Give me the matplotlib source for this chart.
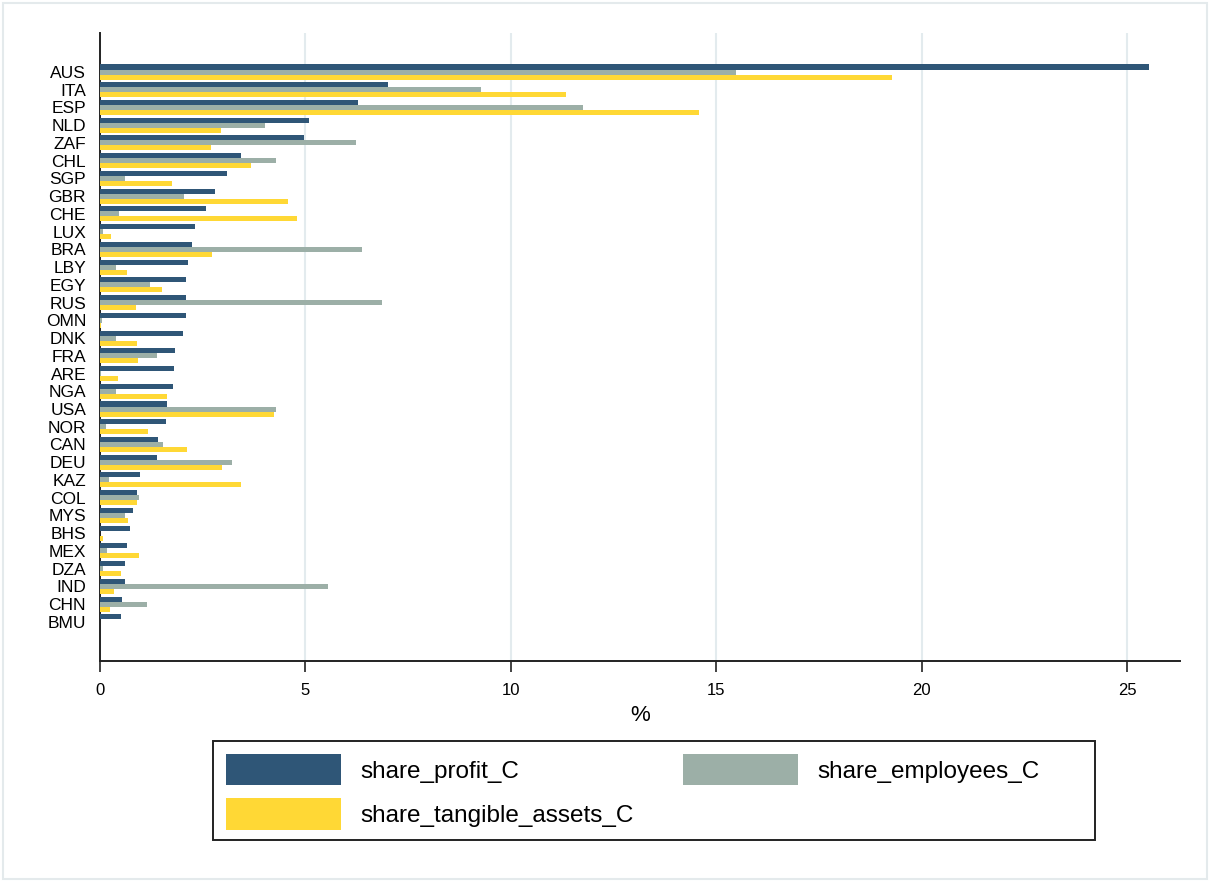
import matplotlib
matplotlib.use("Agg")
import matplotlib.pyplot as plt
from matplotlib.patches import Rectangle
import numpy as np

countries = ["AUS", "ITA", "ESP", "NLD", "ZAF", "CHL", "SGP", "GBR", "CHE", "LUX",
             "BRA", "LBY", "EGY", "RUS", "OMN", "DNK", "FRA", "ARE", "NGA", "USA",
             "NOR", "CAN", "DEU", "KAZ", "COL", "MYS", "BHS", "MEX", "DZA", "IND",
             "CHN", "BMU"]
share_profit_C = [25.52, 7.01, 6.29, 5.08, 4.96, 3.43, 3.08, 2.80, 2.57, 2.31,
                  2.25, 2.14, 2.10, 2.10, 2.10, 2.03, 1.83, 1.81, 1.78, 1.63,
                  1.60, 1.42, 1.39, 0.97, 0.90, 0.81, 0.73, 0.65, 0.60, 0.60,
                  0.53, 0.52]
share_employees_C = [15.48, 9.27, 11.76, 4.01, 6.23, 4.28, 0.62, 2.05, 0.46, 0.07,
                     6.37, 0.39, 1.22, 6.86, 0.04, 0.40, 1.39, 0.03, 0.39, 4.28,
                     0.14, 1.54, 3.21, 0.22, 0.95, 0.60, 0.01, 0.18, 0.08, 5.56,
                     1.14, 0.0]
share_tangible_assets_C = [19.27, 11.34, 14.57, 2.95, 2.70, 3.68, 1.75, 4.57, 4.79, 0.26,
                           2.73, 0.66, 1.52, 0.87, 0.03, 0.89, 0.93, 0.45, 1.63, 4.23,
                           1.17, 2.12, 2.98, 3.43, 0.89, 0.69, 0.07, 0.94, 0.52, 0.33,
                           0.25, 0.0]

c_profit = "#2f5677"
c_emp = "#9cafa7"
c_tang = "#ffd835"

plt.rcParams['font.family'] = ['Liberation Sans', 'DejaVu Sans']

W, H = 1210, 882
fig = plt.figure(figsize=(W / 100, H / 100), dpi=100)
fig.patch.set_facecolor("white")
fig.patches.append(Rectangle((3/W, 3/H), 1204/W, 876/H, transform=fig.transFigure,
                             fill=False, edgecolor="#e4eaec", linewidth=1.5, zorder=0))

ax = fig.add_axes([100/W, 1 - 660.7/H, (1180 - 100)/W, (660.7 - 33)/H])

y = np.arange(len(countries))
h = 0.283
ax.barh(y - h, share_profit_C, height=h, color=c_profit, label="share_profit_C", zorder=3)
ax.barh(y, share_employees_C, height=h, color=c_emp, label="share_employees_C", zorder=3)
ax.barh(y + h, share_tangible_assets_C, height=h, color=c_tang, label="share_tangible_assets_C", zorder=3)

ax.set_xlim(0, 26.28)
ax.set_ylim(33.19, -2.2)
ax.set_yticks(y)
ax.set_yticklabels(countries, fontsize=12.5)
ax.tick_params(axis='y', length=0, pad=10)
ax.set_xticks([0, 5, 10, 15, 20, 25])
ax.tick_params(axis='x', length=8, width=1.2, labelsize=12, pad=8, color="#222222")
ax.xaxis.grid(True, color="#e3ebee", linewidth=1.5, zorder=0)
ax.set_axisbelow(True)
for s in ["top", "right"]:
    ax.spines[s].set_visible(False)
for s in ["left", "bottom"]:
    ax.spines[s].set_linewidth(1.4)
    ax.spines[s].set_color("#222222")
ax.set_xlabel("%", fontsize=16, labelpad=5)

# legend frame
fig.patches.append(Rectangle((213/W, 1 - 840/H), (1095 - 213)/W, 99/H, transform=fig.transFigure,
                             fill=False, edgecolor="#222222", linewidth=1.4, zorder=5))

handles, labels = ax.get_legend_handles_labels()
order = [0, 2, 1]
fs = 17.5
fs_px = fs * 100 / 72
leg = fig.legend([handles[i] for i in order], [labels[i] for i in order],
                 ncol=2, loc="upper left",
                 bbox_to_anchor=(226/W, 1 - 754/H),
                 fontsize=fs, handlelength=115 / fs_px, handleheight=39 / fs_px,
                 handletextpad=19 / fs_px, borderpad=0, labelspacing=13 / fs_px,
                 columnspacing=50 / fs_px,
                 frameon=False, borderaxespad=0)

fig.savefig("out.png", dpi=100, facecolor="white")
